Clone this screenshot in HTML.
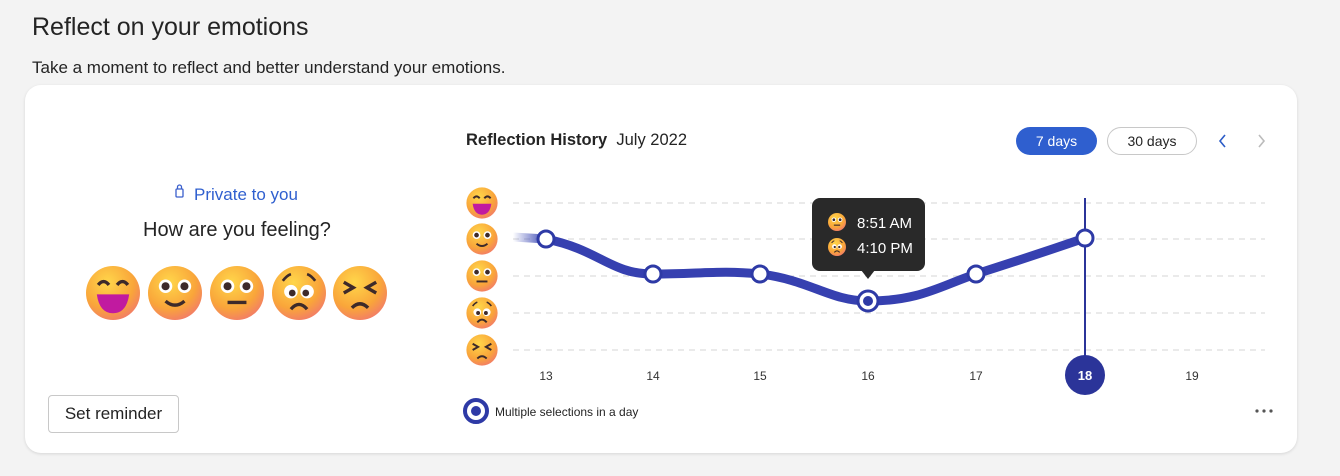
<!DOCTYPE html><html><head><style>
body{margin:0;width:1340px;height:476px;background:#f3f3f3;font-family:"Liberation Sans",sans-serif;position:relative;overflow:hidden;color:#1f1f1f}
.a{position:absolute;white-space:nowrap}
</style></head><body>
<div class="a" style="left:32px;top:13px;font-size:25px;color:#242424">Reflect on your emotions</div>
<div class="a" style="left:32px;top:58px;font-size:17px;color:#242424">Take a moment to reflect and better understand your emotions.</div>
<div class="a" style="left:25px;top:85px;width:1272px;height:368px;background:#fff;border-radius:16px;box-shadow:0 1px 3px rgba(0,0,0,.12)"></div>
<svg class="a" style="left:0;top:0" width="1340" height="476">
<defs>
<radialGradient id="g" cx="40%" cy="30%" r="75%"><stop offset="0" stop-color="#ffd64a"/><stop offset=".65" stop-color="#f9a53a"/><stop offset="1" stop-color="#f27a6a"/></radialGradient>
<g id="e1"><circle r="20" fill="url(#g)"/><path d="M-11-6q4-5 8 0M3-6q4-5 8 0" stroke="#3d2a2a" stroke-width="2.5" fill="none"/><path d="M-12 1h24q-2 14-12 14t-12-14z" fill="#c11aa0"/></g>
<g id="e2"><circle r="20" fill="url(#g)"/><circle cx="-7" cy="-5" r="5" fill="#fff"/><circle cx="7" cy="-5" r="5" fill="#fff"/><circle cx="-7" cy="-5" r="3" fill="#3d2a2a"/><circle cx="7" cy="-5" r="3" fill="#3d2a2a"/><path d="M-7 6q7 6 14 0" stroke="#3d2a2a" stroke-width="2.5" fill="none"/></g>
<g id="e3"><circle r="20" fill="url(#g)"/><circle cx="-7" cy="-5" r="5" fill="#fff"/><circle cx="7" cy="-5" r="5" fill="#fff"/><circle cx="-7" cy="-5" r="3" fill="#3d2a2a"/><circle cx="7" cy="-5" r="3" fill="#3d2a2a"/><path d="M-7 7h14" stroke="#3d2a2a" stroke-width="2.5"/></g>
<g id="e4"><circle r="20" fill="url(#g)"/><path d="M-12-9q3-4 6-5M12-9q-3-4-6-5" stroke="#3d2a2a" stroke-width="2" fill="none"/><circle cx="-6" cy="-1" r="5" fill="#fff"/><circle cx="6" cy="-1" r="5" fill="#fff"/><circle cx="-5" cy="0" r="2.5" fill="#3d2a2a"/><circle cx="5" cy="0" r="2.5" fill="#3d2a2a"/><path d="M-6 12q6-7 12 0" stroke="#3d2a2a" stroke-width="2.5" fill="none"/></g>
<g id="e5"><circle r="20" fill="url(#g)"/><path d="M-12-8l7 4-7 4M12-8l-7 4 7 4" stroke="#3d2a2a" stroke-width="2.5" fill="none"/><path d="M-6 11q6-6 12 0" stroke="#3d2a2a" stroke-width="2.5" fill="none"/></g>
<linearGradient id="fade" x1="0" x2="1"><stop offset="0" stop-color="#3b48b4" stop-opacity="0"/><stop offset="1" stop-color="#3b48b4"/></linearGradient>
</defs>
<use href="#e1" transform="translate(113,293) scale(1.35)"/>
<use href="#e2" transform="translate(175,293) scale(1.35)"/>
<use href="#e3" transform="translate(237,293) scale(1.35)"/>
<use href="#e4" transform="translate(299,293) scale(1.35)"/>
<use href="#e5" transform="translate(360,293) scale(1.35)"/>
<g stroke="#d6d6d6" stroke-width="1" stroke-dasharray="6,5">
<line x1="513" x2="1265" y1="203" y2="203"/><line x1="513" x2="1265" y1="239" y2="239"/><line x1="513" x2="1265" y1="276" y2="276"/><line x1="513" x2="1265" y1="313" y2="313"/><line x1="513" x2="1265" y1="350" y2="350"/></g>
<use href="#e1" transform="translate(482,203) scale(.78)"/>
<use href="#e2" transform="translate(482,239) scale(.78)"/>
<use href="#e3" transform="translate(482,276) scale(.78)"/>
<use href="#e4" transform="translate(482,313) scale(.78)"/>
<use href="#e5" transform="translate(482,350) scale(.78)"/>
<line x1="1085" x2="1085" y1="198" y2="360" stroke="#2b3499" stroke-width="2"/>
<path d="M513 237L546 239" stroke="url(#fade)" stroke-width="9"/>
<path d="M546 239C600 250 610 274 653 274C700 274 720 270 760 274C810 280 830 301 868 301C920 301 940 286 976 274C1020 260 1050 250 1085 238" stroke="#3640b0" stroke-width="9" fill="none"/>
<g fill="#fff" stroke="#2e3aa6" stroke-width="3"><circle cx="546" cy="239" r="8"/><circle cx="653" cy="274" r="8"/><circle cx="760" cy="274" r="8"/><circle cx="976" cy="274" r="8"/><circle cx="1085" cy="238" r="8"/><circle cx="868" cy="301" r="10"/></g>
<circle cx="868" cy="301" r="5" fill="#2e3aa6"/>
<rect x="812" y="198" width="113" height="73" rx="8" fill="#292929"/>
<path d="M861 270l7 9 7-9z" fill="#292929"/>
<use href="#e3" transform="translate(837,222) scale(.45)"/>
<use href="#e4" transform="translate(837,247) scale(.45)"/>
<text x="857" y="228" fill="#fff" font-size="15">8:51 AM</text>
<text x="857" y="253" fill="#fff" font-size="15">4:10 PM</text>
<circle cx="1085" cy="375" r="20" fill="#2b3499"/>
<text x="1085" y="380" fill="#fff" font-size="13" font-weight="bold" text-anchor="middle">18</text>
<g font-size="12" fill="#333" text-anchor="middle"><text x="546" y="380">13</text><text x="653" y="380">14</text><text x="760" y="380">15</text><text x="868" y="380">16</text><text x="976" y="380">17</text><text x="1192" y="380">19</text></g>
<circle cx="476" cy="411" r="11" fill="#fff" stroke="#2e3aa6" stroke-width="4"/><circle cx="476" cy="411" r="5" fill="#2e3aa6"/>
<text x="495" y="416" font-size="12" fill="#242424">Multiple selections in a day</text>
<g fill="#555"><circle cx="1257" cy="411" r="1.6"/><circle cx="1264" cy="411" r="1.6"/><circle cx="1271" cy="411" r="1.6"/></g>
<rect x="176" y="189" width="7" height="8" rx="1" fill="none" stroke="#3a5fcc" stroke-width="1.3"/><path d="M177.5 189v-2a2 2 0 0 1 4 0v2" fill="none" stroke="#3a5fcc" stroke-width="1.3"/>
<path d="M1225 135l-5 6 5 6" stroke="#2b5cc7" stroke-width="1.6" fill="none"/>
<path d="M1259 135l5 6-5 6" stroke="#bbb" stroke-width="1.6" fill="none"/>
</svg>
<div class="a" style="left:194px;top:185px;font-size:17px;color:#2f5fcf">Private to you</div>
<div class="a" style="left:143px;top:219px;font-size:20px;color:#242424">How are you feeling?</div>
<div class="a" style="left:48px;top:395px;width:131px;height:38px;border:1px solid #c8c8c8;border-radius:4px;box-sizing:border-box;font-size:17px;line-height:36px;text-align:center;color:#242424">Set reminder</div>
<div class="a" style="left:466px;top:131px;font-size:16.5px;color:#242424"><b>Reflection History</b>&nbsp;&nbsp;July 2022</div>
<div class="a" style="left:1016px;top:127px;width:81px;height:28px;background:#2f5fcf;border-radius:14px;color:#fff;font-size:14px;line-height:28px;text-align:center">7 days</div>
<div class="a" style="left:1107px;top:127px;width:90px;height:28px;border:1px solid #c8c8c8;box-sizing:border-box;border-radius:14px;color:#242424;font-size:14px;line-height:26px;text-align:center">30 days</div>
</body></html>
